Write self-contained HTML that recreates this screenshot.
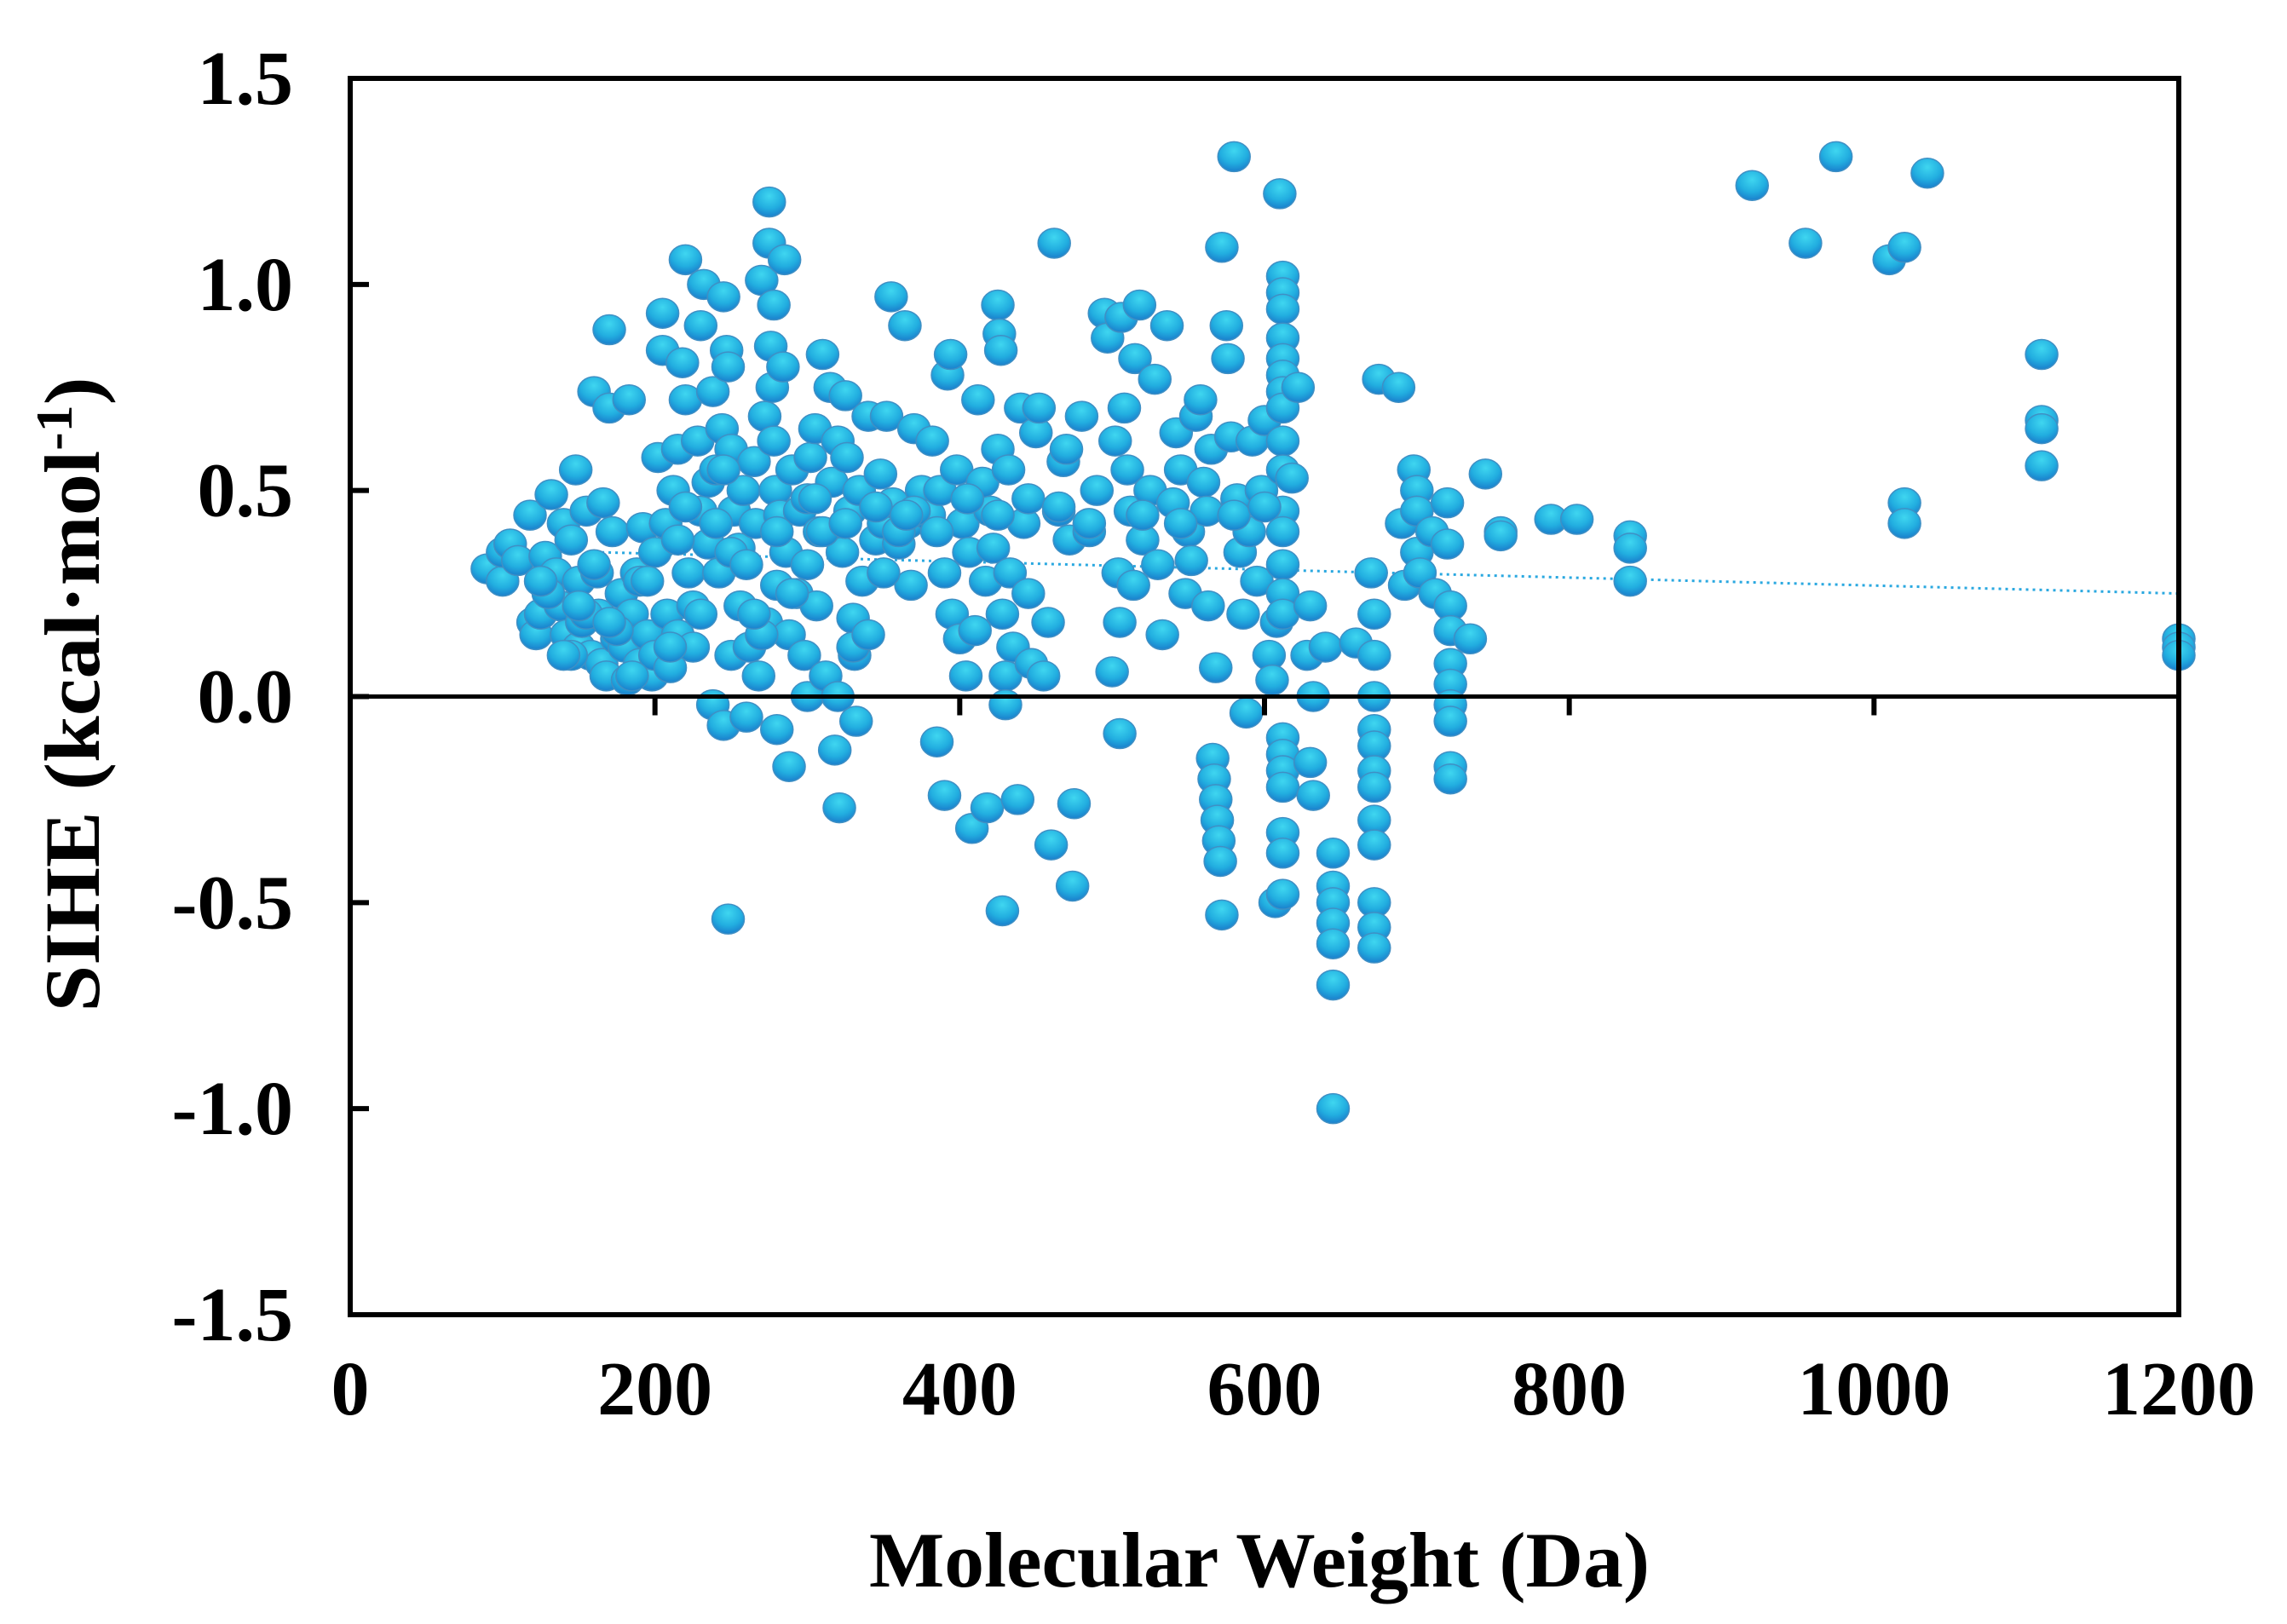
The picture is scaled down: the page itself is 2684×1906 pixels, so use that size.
<!DOCTYPE html>
<html><head><meta charset="utf-8"><style>
html,body{margin:0;padding:0;background:#fff;}
svg{display:block;}
text{font-family:"Liberation Serif",serif;font-weight:bold;fill:#000;}
</style></head><body>
<svg id="chart" width="2684" height="1906" viewBox="0 0 2684 1906" xmlns="http://www.w3.org/2000/svg">
<defs>
<radialGradient id="ball" cx="0.5" cy="0.3" r="0.7">
<stop offset="0" stop-color="#3fd6f0"/>
<stop offset="0.6" stop-color="#22aee0"/>
<stop offset="1" stop-color="#1a7fcc"/>
</radialGradient>
</defs>
<g id="points"></g>
<g id="axes"></g>
</svg>
<script>
const xTicks=[0,200,400,600,800,1000,1200];
const yTicks=[1.5,1.0,0.5,0.0,-0.5,-1.0,-1.5];
const xTickLabels=["0","200","400","600","800","1000","1200"];
const yTickLabels=["1.5","1.0","0.5","0.0","-0.5","-1.0","-1.5"];
const trendX=[165,1200];
const trendY=[0.35,0.25];
const molWeight=[90,100,100,105,110,118,120,122,125,128,132,135,138,140,142,145,148,150,150,152,155,158,160,162,163,165,166,168,170,170,172,175,178,180,182,183,185,188,190,192,195,198,200,200,202,205,205,207,208,210,212,215,215,218,220,220,222,225,225,228,230,230,232,235,235,238,238,240,242,244,245,245,247,248,248,250,250,252,255,256,258,260,262,265,266,268,270,272,273,275,275,276,277,278,278,279,280,280,282,284,285,286,288,288,290,293,295,298,300,300,302,305,306,308,310,312,315,316,318,320,320,321,323,325,326,328,330,331,332,334,336,340,345,348,350,352,355,356,360,364,366,368,370,375,380,382,385,387,390,390,392,394,395,398,400,402,404,406,408,410,412,415,417,418,420,422,425,425,426,427,428,428,430,430,432,433,435,438,440,442,445,447,450,452,455,458,460,462,465,468,470,472,474,475,480,485,490,495,497,500,502,504,505,505,506,508,510,512,514,515,518,520,525,528,530,533,536,540,542,545,548,550,552,555,558,560,562,563,565,566,567,568,569,570,571,572,568,572,575,576,578,580,582,584,586,588,590,592,595,598,600,603,605,607,608,610,612,612,612,612,612,612,612,612,612,612,612,612,612,612,612,612,612,612,612,612,612,612,618,622,628,630,630,632,632,640,645,645,645,645,645,645,645,660,670,672,672,672,672,672,672,672,672,672,672,672,672,675,688,690,692,698,700,700,700,702,710,712,720,720,722,722,722,722,722,722,722,722,735,745,755,755,788,805,840,840,840,920,955,975,1010,1020,1020,1020,1035,1110,1110,1110,1110,1200,1200,1200,130,145,160,175,190,210,230,250,270,290,310,330,350,370,140,155,185,215,245,265,300,340,360,125,150,170,195,220,240,260,280,305,325,345,365,385,405,425,445,465,485,520,545,580,600];
const sihe=[0.31,0.28,0.35,0.37,0.33,0.44,0.18,0.15,0.2,0.34,0.49,0.3,0.22,0.42,0.15,0.38,0.55,0.28,0.12,0.18,0.45,0.1,0.74,0.3,0.2,0.08,0.47,0.05,0.7,0.89,0.4,0.14,0.25,0.12,0.04,0.72,0.2,0.3,0.08,0.41,0.15,0.05,0.35,0.1,0.58,0.84,0.93,0.42,0.2,0.07,0.5,0.6,0.15,0.81,1.06,0.72,0.3,0.22,0.12,0.62,0.9,0.45,1.0,0.52,0.37,0.74,-0.02,0.55,0.3,0.65,-0.07,0.97,0.84,0.8,-0.54,0.6,0.1,0.45,0.36,0.22,0.5,-0.05,0.12,0.57,0.42,0.05,1.01,0.68,0.18,1.2,1.1,0.85,0.75,0.95,0.62,0.5,0.27,-0.08,0.44,0.8,1.06,0.35,0.15,-0.17,0.55,0.25,0.45,0.1,0.0,0.32,0.58,0.65,0.22,0.4,0.83,0.05,0.75,0.52,-0.13,0.62,0.0,-0.27,0.35,0.73,0.58,0.45,0.19,0.1,-0.06,0.5,0.28,0.68,0.38,0.54,0.42,0.68,0.97,0.47,0.37,0.9,0.42,0.27,0.65,0.5,0.44,0.62,-0.11,0.5,-0.24,0.3,0.78,0.83,0.2,0.55,0.14,0.42,0.05,0.35,-0.32,0.16,0.72,0.52,0.28,-0.27,0.45,0.36,0.6,0.95,0.88,0.84,0.2,-0.52,0.05,-0.02,0.55,0.3,0.12,-0.25,0.7,0.42,0.25,0.08,0.64,0.7,0.05,0.18,-0.36,1.1,0.45,0.57,0.6,0.38,-0.46,-0.26,0.68,0.4,0.5,0.93,0.87,0.06,0.62,0.3,0.18,-0.09,0.92,0.7,0.55,0.45,0.27,0.82,0.95,0.38,0.5,0.77,0.32,0.15,0.9,0.47,0.64,0.55,0.25,0.4,0.33,0.68,0.72,0.52,0.45,0.22,0.6,-0.15,-0.2,-0.25,-0.3,-0.35,-0.4,-0.53,0.07,1.09,0.9,0.82,0.63,1.31,0.48,0.35,0.2,-0.04,0.4,0.62,0.28,0.5,0.67,0.1,0.04,-0.5,0.18,1.22,1.02,0.98,0.94,0.87,0.82,0.78,0.74,0.7,0.62,0.55,0.45,0.4,0.32,0.25,0.2,-0.1,-0.14,-0.18,-0.22,-0.33,-0.38,-0.48,0.53,0.75,0.1,0.22,-0.16,0.0,-0.24,0.12,-0.38,-0.46,-0.5,-0.55,-0.6,-0.7,-1.0,0.13,0.3,0.2,0.1,0.0,-0.08,-0.12,-0.18,-0.22,-0.3,-0.36,-0.5,-0.56,-0.61,0.77,0.75,0.42,0.27,0.55,0.5,0.45,0.35,0.3,0.4,0.25,0.47,0.37,0.22,0.16,0.08,0.03,-0.02,-0.06,-0.17,-0.2,0.14,0.54,0.4,0.39,0.43,0.43,0.39,0.36,0.28,1.24,1.1,1.31,1.06,1.09,0.47,0.42,1.27,0.83,0.67,0.65,0.56,0.14,0.12,0.1,0.25,0.1,0.32,0.16,0.28,0.12,0.2,0.35,0.15,0.25,0.4,0.12,0.3,0.45,0.1,0.2,0.05,0.38,0.55,0.2,0.48,0.15,0.4,0.28,0.22,0.18,0.28,0.46,0.42,0.32,0.4,0.48,0.42,0.46,0.44,0.4,0.48,0.44,0.48,0.46,0.42,0.44,0.42,0.44,0.46];

const NS="http://www.w3.org/2000/svg";
const L=411,R=2557,T=92,B=1543;
const xS=v=>L+(v-0)/(1200-0)*(R-L);
const yS=v=>T+(1.5-v)/3*(B-T);
function mk(tag,attrs,parent){const e=document.createElementNS(NS,tag);for(const k in attrs)e.setAttribute(k,attrs[k]);parent.appendChild(e);return e;}
const pts=document.getElementById('points');
const axes=document.getElementById('axes');

const tl=mk('line',{x1:xS(trendX[0]),y1:yS(trendY[0]),x2:xS(trendX[1]),y2:yS(trendY[1]),stroke:'#2aa8e0','stroke-width':3,'stroke-dasharray':'3 5'},pts);



for(let i=0;i<molWeight.length;i++){
  const c=mk('ellipse',{cx:xS(molWeight[i]),cy:yS(sihe[i]),rx:19,ry:17.5,fill:'url(#ball)',stroke:'#3f8fc4','stroke-width':1.5},pts);
  
  
}

const fr=mk('rect',{x:L,y:T,width:R-L,height:B-T,fill:'none',stroke:'#000','stroke-width':6},axes);


const z=mk('line',{x1:L,y1:yS(0),x2:R,y2:yS(0),stroke:'#000','stroke-width':5},axes);



for(let i=0;i<yTicks.length;i++){
  const y=yS(yTicks[i]);
  const t=mk('line',{x1:L,y1:y,x2:L+22,y2:y,stroke:'#000','stroke-width':6},axes);
  
  
  const tx=mk('text',{x:344,y:y+30,'text-anchor':'end','font-size':90},axes);
  tx.textContent=yTickLabels[i];
  
  
}
for(let i=0;i<xTicks.length;i++){
  const x=xS(xTicks[i]);
  if(i>0&&i<xTicks.length-1){
    const t=mk('line',{x1:x,y1:yS(0),x2:x,y2:yS(0)+22,stroke:'#000','stroke-width':6},axes);
    
    
  }
  const tx=mk('text',{x:x,y:1660,'text-anchor':'middle','font-size':90},axes);
  tx.textContent=xTickLabels[i];
  
  
}
</script>
<svg style="position:absolute;left:0;top:0" width="2684" height="1906" xmlns="http://www.w3.org/2000/svg">
<text x="1478" y="1862" text-anchor="middle" font-size="92" textLength="916" lengthAdjust="spacingAndGlyphs">Molecular Weight (Da)</text>
<text transform="translate(116,815) rotate(-90)" text-anchor="middle" font-size="92" textLength="745" lengthAdjust="spacingAndGlyphs">SIHE (kcal·mol<tspan dy="-32" font-size="60">-1</tspan><tspan dy="32">)</tspan></text>
</svg>
</body></html>
